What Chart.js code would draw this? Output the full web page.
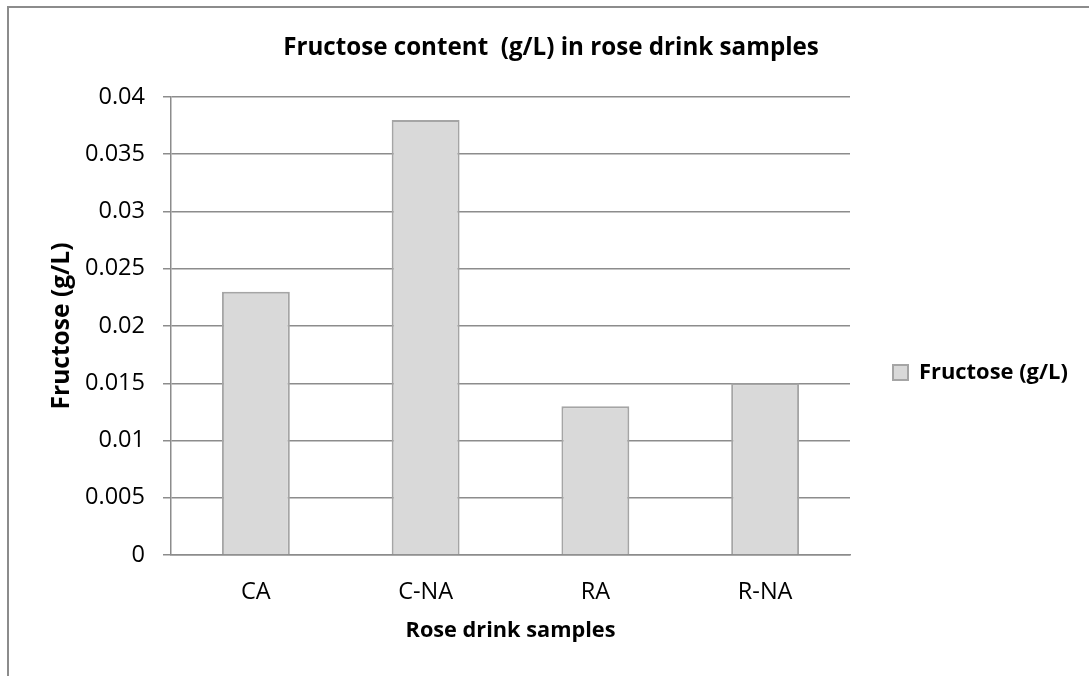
<!DOCTYPE html>
<html>
<head>
<meta charset="utf-8">
<script src="https://cdn.jsdelivr.net/npm/chart.js@4/dist/chart.umd.min.js"></script>
<style>
  html, body { margin: 0; padding: 0; background: #fff; }
  #wrap { position: relative; width: 1089px; height: 676px; }
  #frame {
    position: absolute; left: 7px; top: 6px; right: 0; bottom: 0;
    border-top: 2px solid #8c8c8c; border-left: 2px solid #8c8c8c;
  }
  canvas { position: absolute; left: 0; top: 0; }
</style>
</head>
<body>
<div id="wrap">
  <div id="frame"></div>
  <canvas id="chart" width="1089" height="676"></canvas>
</div>
<script>
const categories = ['CA', 'C-NA', 'RA', 'R-NA'];
const fructose = [0.023, 0.038, 0.013, 0.015];
const seriesName = 'Fructose (g/L)';
const chartTitle = 'Fructose content  (g/L) in rose drink samples';
const xTitle = 'Rose drink samples';
const yTitle = 'Fructose (g/L)';

const FONT = "'Open Sans', 'Noto Sans', sans-serif";
const gridGray = '#8c8c8c';

const ctx = document.getElementById('chart').getContext('2d');

// pick a font size so the text is as wide as in the reference
const fitSize = (text, weight, width) => {
  ctx.font = `${weight} 100px ${FONT}`;
  return (100 * width) / ctx.measureText(text).width;
};

const titleSize = fitSize(chartTitle, 'bold', 536);
const tickSize = fitSize('0.025', 'normal', 60);
const legendSize = fitSize(seriesName, 'bold', 149);
const xTitleSize = fitSize(xTitle, 'bold', 210);
const yTitleSize = fitSize(yTitle, 'bold', 167);

// target geometry (px)
const plotLeft = 171;
const plotRight = 850;
const plotTop = 97;
const plotBottom = 555;

ctx.font = `bold ${legendSize}px ${FONT}`;
const legendItemW = 15 + legendSize / 2 + ctx.measureText(seriesName).width;
const padR = 1089 - 893 - legendItemW - 10;
const padL = 2 * 551 - 1089 + padR;
const legendPad = 1089 - padR - plotRight - legendItemW - 10;

const titleLH = titleSize * 1.2;

new Chart(ctx, {
  type: 'bar',
  data: {
    labels: categories,
    datasets: [
      {
        label: seriesName,
        data: fructose,
        backgroundColor: '#d9d9d9',
        borderColor: '#a5a5a5',
        borderWidth: 2,
        categoryPercentage: 1,
        barPercentage: 0.4,
      },
    ],
  },
  options: {
    responsive: false,
    animation: false,
    layout: { padding: { left: padL, right: padR, top: 0, bottom: 0 } },
    plugins: {
      tooltip: { enabled: false },
      title: {
        display: true,
        text: chartTitle,
        color: '#000',
        font: { family: FONT, size: titleSize, weight: 'bold' },
        padding: { top: 48 - titleLH / 2, bottom: plotTop - 48 - titleLH / 2 },
      },
      legend: {
        position: 'right',
        title: {
          display: true,
          text: ' ',
          font: { size: 10 },
          padding: { top: 57, bottom: 0 },
        },
        labels: {
          color: '#000',
          font: { family: FONT, size: legendSize, weight: 'bold' },
          boxWidth: 15,
          boxHeight: 15,
          padding: legendPad,
        },
      },
    },
    scales: {
      x: {
        grid: { display: false, drawTicks: false },
        border: { display: true, color: gridGray, width: 1.5 },
        ticks: {
          color: '#000',
          font: { family: FONT, size: tickSize },
          padding: 35.5 - 0.528 * tickSize,
        },
        title: {
          display: true,
          text: xTitle,
          color: '#000',
          font: { family: FONT, size: xTitleSize, weight: 'bold' },
          padding: { top: 0, bottom: 676 - 631 - (xTitleSize * 1.2) / 2 },
        },
        afterFit: (scale) => {
          scale.height = 676 - plotBottom;
        },
      },
      y: {
        min: 0,
        max: 0.04,
        grid: { color: gridGray, lineWidth: 1.5, tickLength: 8 },
        border: { display: true, color: gridGray, width: 1.5 },
        ticks: {
          stepSize: 0.005,
          color: '#000',
          font: { family: FONT, size: tickSize },
          padding: 18,
          callback: (v) => String(Number(v.toFixed(3))),
        },
        title: {
          display: true,
          text: yTitle,
          color: '#000',
          font: { family: FONT, size: yTitleSize, weight: 'bold' },
          padding: { top: 62 - padL - (yTitleSize * 1.2) / 2, bottom: 0 },
        },
        afterFit: (scale) => {
          scale.width = plotLeft - padL;
        },
      },
    },
  },
});
</script>
</body>
</html>
